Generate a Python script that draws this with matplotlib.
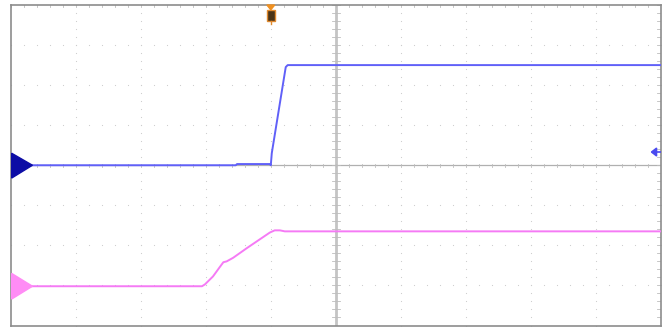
import numpy as np
import matplotlib
matplotlib.use("Agg")
import matplotlib.pyplot as plt
from matplotlib.patches import Polygon, Rectangle

# scope screen: 10 x 8 divisions, origin at screen centre
ch1_t = [-5.0, -1.54, -1.52, -1.015, -1.0, -0.985, -0.77, -0.74, 5.0]
ch1_v = [0.0, 0.0, 0.03, 0.03, 0.0, 0.3, 2.45, 2.5, 2.5]

ch2_t = [-5.0, -2.06, -2.015, -1.89, -1.785, -1.73, -1.68, -1.58, -1.37,
         -1.17, -1.015, -0.94, -0.86, -0.785, 5.0]
ch2_v = [-3.02, -3.02, -2.975, -2.775, -2.54, -2.42, -2.40, -2.31, -2.07,
         -1.85, -1.68, -1.625, -1.625, -1.65, -1.65]

ch1_offset = 0.0
ch2_offset = -3.02
trig_pos = -1.0
trig_level = 0.33

fig = plt.figure(figsize=(6.69, 3.29), dpi=100)
ax = fig.add_axes([11 / 669, 1 - 325.5 / 329, 649.5 / 669, 320.5 / 329])
ax.set_xlim(-5, 5)
ax.set_ylim(-4, 4)
ax.set_xticks([])
ax.set_yticks([])
for s in ax.spines.values():
    s.set_color("#8c8c8c")
    s.set_linewidth(1.2)

grid_c = "#cccccc"
tick_c = "#bdbdbd"
# dotted graticule
fine_x = np.arange(-5, 5.01, 0.2)
fine_y = np.arange(-4, 4.01, 0.2)
for gx in range(-4, 5):
    if gx == 0:
        continue
    ax.scatter(np.full_like(fine_y, gx), fine_y, s=0.7, color=grid_c, lw=0, zorder=1)
for gy in range(-3, 4):
    if gy == 0:
        continue
    ax.scatter(fine_x, np.full_like(fine_x, gy), s=0.7, color=grid_c, lw=0, zorder=1)

# centre axes with minor ticks
ax.axvline(0, color="#c4c4c4", lw=2.0, zorder=1)
ax.axhline(0, color="#b0b0b0", lw=0.9, zorder=1)
for tx in fine_x:
    ax.plot([tx, tx], [-0.04, 0.04], color=tick_c, lw=0.6, zorder=1)
    ax.plot([tx, tx], [3.96, 4.0], color=tick_c, lw=0.6, zorder=1)
for ty in fine_y:
    ax.plot([-0.06, 0.06], [ty, ty], color=tick_c, lw=0.6, zorder=1)
    ax.plot([4.95, 5.0], [ty, ty], color=tick_c, lw=0.6, zorder=1)

# traces
ax.plot(ch1_t, ch1_v, color="#6060f8", lw=1.4, zorder=3)
ax.plot(ch2_t, ch2_v, color="#f57af5", lw=1.4, zorder=3)

# channel ground markers
ax.add_patch(Polygon([[-4.99, ch1_offset + 0.3], [-4.99, ch1_offset - 0.32],
                      [-4.67, ch1_offset]], closed=True, color="#0d0da5", zorder=4))
ax.add_patch(Polygon([[-4.99, ch2_offset + 0.32], [-4.99, ch2_offset - 0.32],
                      [-4.67, ch2_offset]], closed=True, color="#ff8cf5", zorder=4))

# trigger position marker
ax.add_patch(Polygon([[trig_pos - 0.06, 4.0], [trig_pos + 0.06, 4.0],
                      [trig_pos, 3.88]], closed=True, color="#f09020", zorder=5,
                     clip_on=False))
ax.add_patch(Rectangle((trig_pos - 0.06, 3.6), 0.12, 0.27, facecolor="#4a3418",
                       edgecolor="#e08a30", lw=1.0, zorder=5))
ax.plot([trig_pos, trig_pos], [3.52, 3.6], color="#e08a30", lw=1.0, zorder=5)

# trigger level marker
ax.add_patch(Polygon([[4.94, trig_level + 0.1], [4.94, trig_level - 0.1],
                      [4.86, trig_level]], closed=True, color="#4a4af0", zorder=5))
ax.plot([4.9, 5.0], [trig_level, trig_level], color="#4a4af0", lw=1.2, zorder=5)

fig.savefig("out.png", dpi=100)
